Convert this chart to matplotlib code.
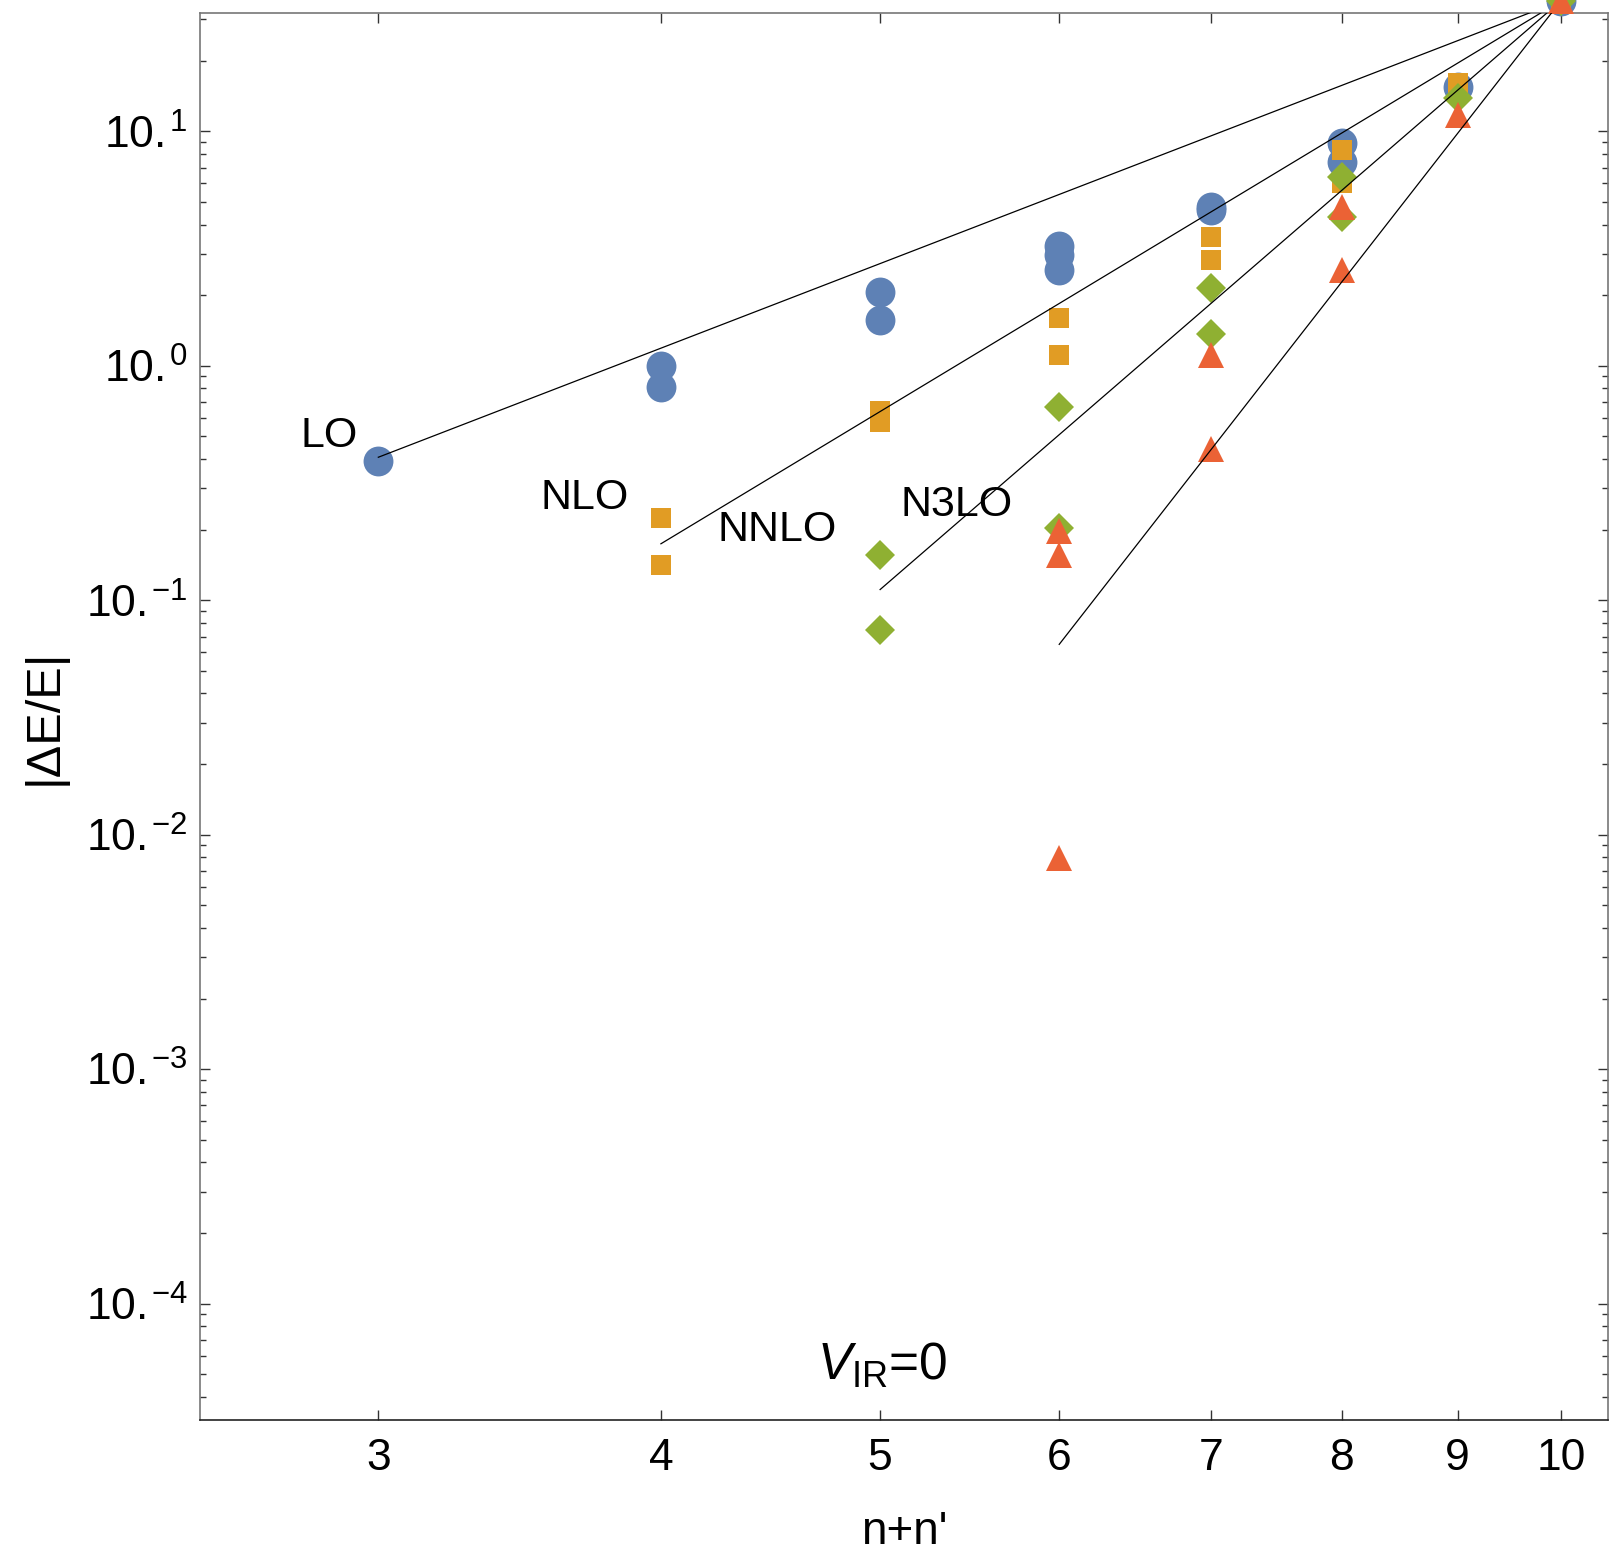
import numpy as np
import matplotlib
matplotlib.use("Agg")
from matplotlib import pyplot as plt
from matplotlib.ticker import FixedLocator, LogLocator, NullFormatter, FuncFormatter

plt.rcParams['font.family'] = ['Liberation Sans', 'DejaVu Sans']
plt.rcParams['mathtext.fontset'] = 'custom'
plt.rcParams['mathtext.rm'] = 'Liberation Sans'
plt.rcParams['mathtext.it'] = 'Liberation Sans:italic'
plt.rcParams['mathtext.bf'] = 'Liberation Sans:bold'

# data (n+n', |dE/E|)
lo_n = [3, 4, 4, 5, 5, 6, 6, 6, 7, 7, 8, 8, 9, 10]
lo_val = [0.394, 1.0, 0.813, 2.07, 1.56, 3.23, 2.98, 2.57, 4.75, 4.62, 8.95, 7.42, 15.5, 36]

nlo_n = [4, 4, 5, 5, 6, 6, 7, 7, 8, 8, 9, 10]
nlo_val = [0.224, 0.141, 0.644, 0.577, 1.60, 1.11, 3.54, 2.81, 8.35, 6.04, 16.1, 36]

nnlo_n = [5, 5, 6, 6, 7, 7, 8, 8, 9, 10]
nnlo_val = [0.156, 0.0745, 0.666, 0.204, 2.15, 1.37, 6.41, 4.29, 13.9, 36]

n3lo_n = [6, 6, 6, 7, 7, 8, 8, 9, 10]
n3lo_val = [0.197, 0.156, 0.00795, 1.11, 0.44, 4.77, 2.55, 11.7, 36]

# fitted power-law lines: start point per order, common end point at n+n'=10
fit_start_n = [3, 4, 5, 6]
fit_start_val = [0.407, 0.174, 0.111, 0.0648]
fit_end_n = 10
fit_end_val = 36

order_names = ['LO', 'NLO', 'NNLO', 'N3LO']
label_x = [2.853, 3.702, 4.502, 5.403]
label_y = [0.502, 0.273, 0.199, 0.254]

xticks = [3, 4, 5, 6, 7, 8, 9, 10]
yticks_exp = [1, 0, -1, -2, -3, -4]

fig = plt.figure(figsize=(16.13, 15.57), dpi=100)
ax = fig.add_axes([0.1240, 0.0880, 0.8729, 0.9038])

ax.plot(lo_n, lo_val, 'o', color='#5E81B5', ms=21.5, mew=0, clip_on=False, zorder=3)
ax.plot(nlo_n, nlo_val, 's', color='#E19C24', ms=15, mew=0, clip_on=False, zorder=3)
ax.plot(nnlo_n, nnlo_val, 'D', color='#8FB032', ms=15, mew=0, clip_on=False, zorder=3)
ax.plot(n3lo_n, n3lo_val, '^', color='#EB6235', ms=18.5, mew=0, clip_on=False, zorder=3)

for s_n, s_v in zip(fit_start_n, fit_start_val):
    ax.plot([s_n, fit_end_n], [s_v, fit_end_val], color='black', lw=0.9, zorder=4)

for name, lx, ly in zip(order_names, label_x, label_y):
    ax.text(lx, ly, name, ha='center', va='center', fontsize=31)

ax.text(5.01, 5.45e-5, r'$V_{\rm IR}$=0', ha='center', va='center', fontsize=37)

ax.set_xscale('log')
ax.set_yscale('log')
ax.set_xlim(2.502, 10.49)
ax.set_ylim(3.19e-5, 32)

ax.xaxis.set_major_locator(FixedLocator(xticks))
ax.xaxis.set_major_formatter(FuncFormatter(lambda v, p: '%d' % round(v)))
ax.xaxis.set_minor_locator(FixedLocator([]))
ax.xaxis.set_minor_formatter(NullFormatter())

ax.yaxis.set_major_locator(FixedLocator([10.0 ** e for e in yticks_exp]))
ax.yaxis.set_major_formatter(FuncFormatter(
    lambda v, p: r'$10.^{\!{%d}}$' % round(np.log10(v))))
ax.yaxis.set_minor_locator(LogLocator(base=10, subs=np.arange(2, 10), numticks=20))
ax.yaxis.set_minor_formatter(NullFormatter())

ax.tick_params(which='both', direction='in', top=True, right=True,
               color='#333333', width=1.0)
ax.tick_params(which='major', length=7.5, labelsize=32)
ax.tick_params(which='minor', length=4.5)
ax.tick_params(axis='x', pad=13)
ax.tick_params(axis='y', pad=9)

for side in ['left', 'top', 'right']:
    ax.spines[side].set_color('#777777')
ax.spines['bottom'].set_color('#222222')
for sp in ax.spines.values():
    sp.set_linewidth(1.2)

ax.set_xlabel("n+n'", fontsize=33, labelpad=22)
ax.set_ylabel('|ΔE/E|', fontsize=35, labelpad=14)

fig.savefig('out.png', dpi=100)
